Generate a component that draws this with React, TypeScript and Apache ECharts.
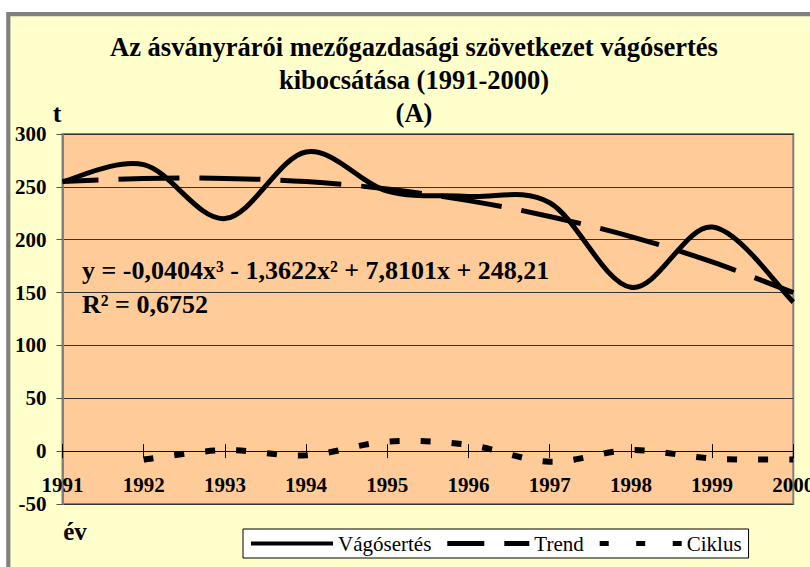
import React, { useEffect, useRef } from 'react';
import * as echarts from 'echarts';

// ---- data ----
const years = ['1991', '1992', '1993', '1994', '1995', '1996', '1997', '1998', '1999', '2000'];
const vagosertes = [255, 271, 220, 283, 246, 241, 235, 155, 212, 141];
const trend = [255, 258, 258, 255, 248, 237, 222, 203, 179, 150];
const ciklus = [null, -8, 1, -4, 9, 6, -10, 1, -7, -8];
const yMin = -50;
const yMax = 300;
const yStep = 50;

const seriesNames = ['Vágósertés', 'Trend', 'Ciklus'];
const titleLines = [
  'Az ásványrárói mezőgazdasági szövetkezet vágósertés',
  'kibocsátása (1991-2000)',
  '(A)',
];
const yAxisName = 't';
const xAxisName = 'év';
const equationText = 'y = -0,0404x³ - 1,3622x² + 7,8101x + 248,21';
const r2Text = 'R² = 0,6752';

const FONT = "'Liberation Serif', 'Times New Roman', serif";

// [categoryIndex, value] pairs, skipping missing values
const toPairs = (vals: (number | null)[]) =>
  vals
    .map((v, i) => [i, v] as [number, number | null])
    .filter((p) => p[1] !== null) as [number, number][];

// Excel-like smoothed line (Catmull-Rom Bezier) drawn through the axis scales
function smoothRenderer(count: number, lineStyle: any) {
  return (params: any, api: any) => {
    if (params.dataIndexInside !== 0) return null;
    const pts: number[][] = [];
    for (let j = 0; j < count; j++) {
      pts.push(api.coord([api.value(0, j), api.value(1, j)]));
    }
    let d = `M${pts[0][0]},${pts[0][1]}`;
    for (let j = 0; j < pts.length - 1; j++) {
      const p0 = pts[j - 1] || pts[j];
      const p1 = pts[j];
      const p2 = pts[j + 1];
      const p3 = pts[j + 2] || pts[j + 1];
      const c1x = p1[0] + (p2[0] - p0[0]) / 6;
      const c1y = p1[1] + (p2[1] - p0[1]) / 6;
      const c2x = p2[0] - (p3[0] - p1[0]) / 6;
      const c2y = p2[1] - (p3[1] - p1[1]) / 6;
      d += ` C${c1x},${c1y} ${c2x},${c2y} ${p2[0]},${p2[1]}`;
    }
    return {
      type: 'path',
      shape: { pathData: d },
      style: { fill: 'none', stroke: '#000', lineCap: 'butt', lineJoin: 'round', ...lineStyle },
    };
  };
}

export default function App() {
  const ref = useRef<HTMLDivElement>(null);

  useEffect(() => {
    if (!ref.current) return;
    const chart = echarts.init(ref.current, null, { renderer: 'svg' });

    const vData = toPairs(vagosertes);
    const tData = toPairs(trend);
    const cData = toPairs(ciklus);

    const xAxisBase = {
      type: 'category',
      data: years,
      boundaryGap: false,
      splitLine: { show: false },
    };

    const option: any = {
      animation: false,
      backgroundColor: '#ffffff',
      title: {
        text: titleLines.join('\n'),
        left: 414,
        top: 30,
        textAlign: 'center',
        padding: 0,
        textStyle: {
          fontFamily: FONT,
          fontWeight: 'bold',
          fontSize: 26.5,
          lineHeight: 33,
          color: '#000',
        },
      },
      legend: {
        left: 243,
        top: 529,
        orient: 'horizontal',
        padding: [4, 7, 4, 8],
        itemGap: 16,
        itemWidth: 82,
        itemHeight: 22,
        symbolKeepAspect: true,
        backgroundColor: '#ffffff',
        borderColor: '#000',
        borderWidth: 1,
        borderRadius: 0,
        itemStyle: { color: '#000', borderWidth: 0 },
        textStyle: { fontFamily: FONT, fontSize: 21, color: '#000' },
        data: [
          { name: seriesNames[0], icon: 'path://M0,0H82V4H0Z' },
          { name: seriesNames[1], icon: 'path://M0,0H37V5H0Z M57,0H82V5H57Z' },
          { name: seriesNames[2], icon: 'path://M0,0H9V5H0Z M36.5,0H45.5V5H36.5Z M73,0H82V5H73Z' },
        ],
      },
      grid: {
        left: 62.5,
        right: 16.7,
        top: 134,
        bottom: 63,
        show: true,
        backgroundColor: '#FFCC99',
        borderColor: '#808080',
        borderWidth: 2,
        containLabel: false,
        outerBoundsMode: 'none',
      },
      xAxis: [
        {
          ...xAxisBase,
          position: 'bottom',
          axisLine: { show: true, onZero: true, lineStyle: { color: '#000', width: 1 } },
          axisTick: { show: true, inside: false, length: 7, alignWithLabel: true, lineStyle: { color: '#000', width: 1 } },
          axisLabel: {
            show: true,
            margin: -30,
            interval: 0,
            showMinLabel: true,
            showMaxLabel: true,
            hideOverlap: false,
            fontFamily: FONT,
            fontWeight: 'bold',
            fontSize: 21,
            color: '#000',
          },
        },
        {
          ...xAxisBase,
          position: 'top',
          axisLine: { show: true, onZero: true, onZeroAxisIndex: 1, lineStyle: { color: '#000', width: 1 } },
          axisTick: { show: true, inside: false, length: 7, alignWithLabel: true, lineStyle: { color: '#000', width: 1 } },
          axisLabel: { show: false },
        },
      ],
      yAxis: [
        {
          type: 'value',
          min: yMin,
          max: yMax,
          interval: yStep,
          axisLine: { show: true, lineStyle: { color: '#808080', width: 2 } },
          axisTick: { show: true, inside: false, length: 6, lineStyle: { color: '#555', width: 1 } },
          axisLabel: {
            margin: 16,
            fontFamily: FONT,
            fontWeight: 'bold',
            fontSize: 21,
            color: '#000',
          },
          splitLine: { show: true, lineStyle: { color: '#333', width: 1 } },
        },
        {
          type: 'value',
          min: yMin,
          max: yMax,
          interval: yStep,
          show: false,
          splitLine: { show: false },
        },
      ],
      series: [
        {
          name: seriesNames[0],
          type: 'custom',
          xAxisIndex: 0,
          yAxisIndex: 0,
          data: vData,
          encode: { x: 0, y: 1 },
          itemStyle: { color: '#000' },
          renderItem: smoothRenderer(vData.length, { lineWidth: 5 }),
          z: 3,
        },
        {
          name: seriesNames[1],
          type: 'custom',
          xAxisIndex: 0,
          yAxisIndex: 0,
          data: tData,
          encode: { x: 0, y: 1 },
          itemStyle: { color: '#000' },
          renderItem: smoothRenderer(tData.length, { lineWidth: 5, lineDash: [61, 20], lineDashOffset: 25 }),
          z: 3,
        },
        {
          name: seriesNames[2],
          type: 'custom',
          xAxisIndex: 0,
          yAxisIndex: 0,
          data: cData,
          encode: { x: 0, y: 1 },
          itemStyle: { color: '#000' },
          renderItem: smoothRenderer(cData.length, { lineWidth: 6, lineDash: [10, 21] }),
          z: 3,
        },
      ],
      graphic: {
        elements: [
          {
            type: 'rect',
            z: -10,
            silent: true,
            shape: { x: 8.3, y: 14.2, width: 1000, height: 1000 },
            style: { fill: '#FFFFCC', stroke: '#808080', lineWidth: 4.2 },
          },
          {
            type: 'text',
            z: 100,
            x: 57,
            y: 113,
            style: {
              text: yAxisName,
              fontFamily: FONT,
              fontWeight: 'bold',
              fontSize: 26,
              fill: '#000',
              textAlign: 'center',
              textVerticalAlign: 'middle',
            },
          },
          {
            type: 'text',
            z: 100,
            x: 75,
            y: 531,
            style: {
              text: xAxisName,
              fontFamily: FONT,
              fontWeight: 'bold',
              fontSize: 25,
              fill: '#000',
              textAlign: 'center',
              textVerticalAlign: 'middle',
            },
          },
          {
            type: 'text',
            z: 100,
            x: 82,
            y: 270,
            style: {
              text: equationText,
              fontFamily: FONT,
              fontWeight: 'bold',
              fontSize: 26,
              fill: '#000',
              textAlign: 'left',
              textVerticalAlign: 'middle',
            },
          },
          {
            type: 'text',
            z: 100,
            x: 82,
            y: 304,
            style: {
              text: r2Text,
              fontFamily: FONT,
              fontWeight: 'bold',
              fontSize: 26,
              fill: '#000',
              textAlign: 'left',
              textVerticalAlign: 'middle',
            },
          },
        ],
      },
    };

    chart.setOption(option);
    return () => {
      chart.dispose();
    };
  }, []);

  return (
    <div
      ref={ref}
      style={{ position: 'absolute', left: 0, top: 0, width: 810, height: 567 }}
    />
  );
}
